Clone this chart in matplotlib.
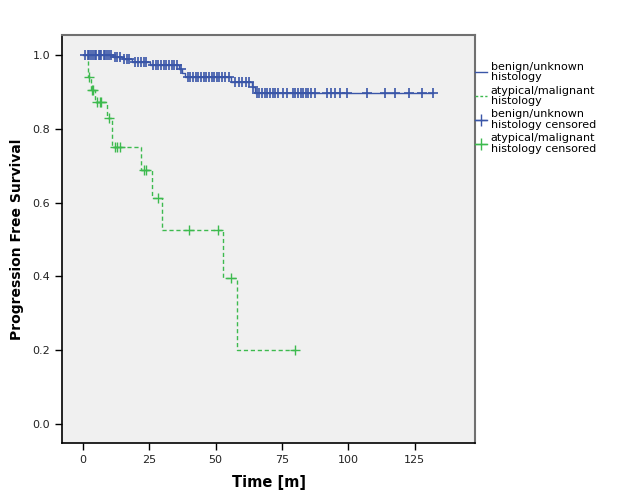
import matplotlib
matplotlib.use('Agg')
import matplotlib.pyplot as plt
import numpy as np
from matplotlib.lines import Line2D

# Kaplan-Meier steps (time of step, survival after step)
blue_t = [0.0, 11.4, 15.0, 18.4, 25.3, 36.3, 37.5, 38.5, 56.0, 63.8, 64.8, 132.0]
blue_s = [1.0, 0.996, 0.991, 0.982, 0.973, 0.962, 0.951, 0.940, 0.928, 0.914, 0.897, 0.897]

green_t = [1.8, 2.0, 3.0, 4.7, 9.0, 11.0, 22.0, 26.0, 30.0, 53.0, 58.0, 80.0]
green_s = [1.0, 0.94, 0.906, 0.873, 0.83, 0.75, 0.69, 0.614, 0.527, 0.396, 0.2, 0.2]

# censored times
blue_cens = [1, 2, 2.5, 3, 4, 4.5, 5, 6, 6.5, 7, 8, 8.5, 9, 10, 10.5, 12, 13, 14,
             15.5, 16.5, 17.5, 19.5, 21, 22, 23, 24, 26.5, 27.5, 28.5, 29.5, 30.5,
             31.5, 32.5, 33.5, 34.5, 35.5, 37, 39.5, 40.5, 41.5, 42.5, 43.5, 44.5,
             45.5, 46.5, 47.5, 48.5, 49.5, 50.5, 51.5, 52.5, 53.5, 55, 57.5, 59, 60,
             61.5, 62.5, 64.2, 65.5, 66.5, 67.5, 68.5, 69.5, 70.5, 71.5, 72.5, 73.5,
             75.5, 77, 79, 80, 81, 82, 83, 84, 85, 86, 87.5, 92, 93.5, 95, 97, 99.5,
             107, 113.8, 117.6, 122.9, 127.8, 131.9]
green_cens = [2.2, 3.5, 4.0, 5.5, 6.5, 7.0, 10, 12, 13, 14, 23, 24, 28.5, 40, 51, 56, 80]

labels = ['benign/unknown\nhistology', 'atypical/malignant\nhistology',
          'benign/unknown\nhistology censored', 'atypical/malignant\nhistology censored']

blue = '#3a56a8'
green = '#3dba4e'


def surv_at(times, steps, surv):
    idx = np.searchsorted(steps, times, side='right') - 1
    return np.array(surv)[idx]


fig = plt.figure(figsize=(6.26, 5.01), dpi=100)
ax = fig.add_axes([62 / 626, 1 - 443 / 501, 413 / 626, 408 / 501])
ax.set_facecolor('#f0f0f0')

ax.step(blue_t, blue_s, where='post', color=blue, lw=1.0)
ax.step(green_t, green_s, where='post', color=green, lw=1.0, ls=(0, (3, 2)))
ax.plot(blue_cens, surv_at(blue_cens, blue_t, blue_s), ls='none', marker='+',
        color=blue, ms=7, mew=1.2)
ax.plot(green_cens, surv_at(green_cens, green_t, green_s), ls='none', marker='+',
        color=green, ms=7, mew=1.0)

ax.set_xlim(-7.8, 147.7)
ax.set_ylim(-0.052, 1.055)
ax.set_xticks([0, 25, 50, 75, 100, 125])
ax.set_yticks([0.0, 0.2, 0.4, 0.6, 0.8, 1.0])
ax.set_yticklabels(['0.0', '0.2', '0.4', '0.6', '0.8', '1.0'])
ax.tick_params(direction='out', length=5, width=1, labelsize=8, colors='black',
               labelcolor='#222222')
for s in ['left', 'bottom']:
    ax.spines[s].set_color('black')
    ax.spines[s].set_linewidth(1.2)
for s in ['top', 'right']:
    ax.spines[s].set_color('#707070')
    ax.spines[s].set_linewidth(1.5)

ax.set_xlabel('Time [m]', fontsize=10.5, fontweight='bold', labelpad=7)
ax.set_ylabel('Progression Free Survival', fontsize=10, fontweight='bold', labelpad=6)

handles = [Line2D([], [], color=blue, lw=1.0, drawstyle='steps-post'),
           Line2D([], [], color=green, lw=1.0, ls=(0, (2, 1.5))),
           Line2D([], [], color=blue, lw=1.0, marker='+', ms=9),
           Line2D([], [], color=green, lw=1.0, marker='+', ms=9)]
leg = fig.legend(handles, labels, loc='upper left', bbox_to_anchor=(475 / 626, 1 - 62 / 501),
                 frameon=False, fontsize=8, handlelength=1.1, handletextpad=0.3,
                 labelspacing=0.3, borderaxespad=0, borderpad=0)
for t in leg.get_texts():
    t.set_linespacing(1.05)

fig.savefig('out.png', dpi=100)
